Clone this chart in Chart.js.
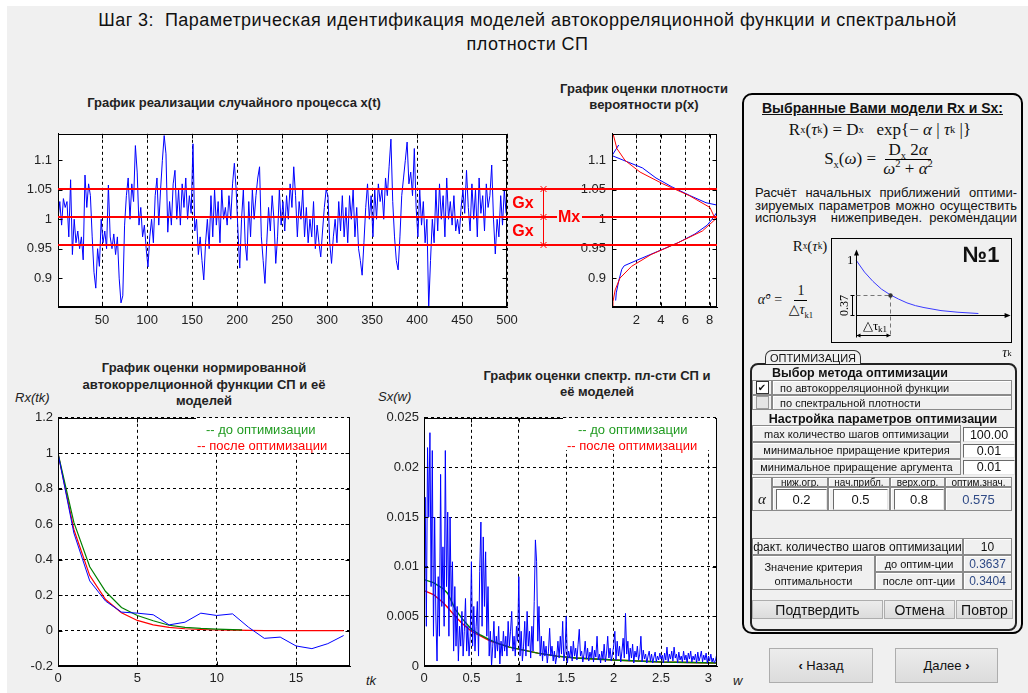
<!DOCTYPE html>
<html>
<head>
<meta charset="utf-8">
<script src="https://cdn.jsdelivr.net/npm/chart.js@4.4.1/dist/chart.umd.min.js"></script>
<style>
html, body { margin: 0; padding: 0; background: #fff; overflow: hidden; }
body { width: 1028px; height: 693px; position: relative; font-family: "Liberation Sans", Arial, sans-serif; color: #111; }
#page { position: absolute; left: 7px; top: 6px; width: 1021px; height: 687px; background: #f0f0f0; }
canvas { position: absolute; }
.abs { position: absolute; box-sizing: border-box; display: flex; align-items: center; justify-content: center; white-space: nowrap; }
.title { font-size: 18px; letter-spacing: 0.45px; line-height: 24px; display: block; text-align: center; color: #111; }
.ctitle { font-weight: bold; font-size: 13px; line-height: 16px; display: block; text-align: center; color: #222; }
.ital { font-style: italic; font-size: 13px; color: #222; justify-content: flex-start; }
.frame { border: 2px solid #000; border-radius: 10px; }
.frame2 { border: 2px solid #222; border-radius: 8px; }
.hdr { font-weight: bold; font-size: 14px; }
.math { font-family: "Liberation Serif", "DejaVu Serif", serif; font-size: 17px; }
.math sub { font-size: 62%; vertical-align: -4px; line-height: 0; }
.math sup { font-size: 62%; vertical-align: 7px; line-height: 0; }
.frac { display: inline-flex; flex-direction: column; align-items: center; }
.frac > span { padding: 0 3px; line-height: 18px; }
.frac > span:first-child { border-bottom: 1px solid #000; }
.just { display: block; font-size: 13px; line-height: 14px; text-align: justify; text-align-last: justify; }
.tab { border: 1px solid #333; border-bottom: none; border-radius: 7px 7px 0 0; font-size: 11px; background: #f0f0f0; }
.b12 { font-weight: bold; font-size: 12.5px; }
.cell { border: 1px solid #8a8a8a; box-shadow: inset 1px 1px 0 #fff; font-size: 11px; background: #f0f0f0; }
.left { justify-content: flex-start; padding-left: 7px; }
.edit { background: #fff; border-top: 1px solid #6a6a6a; border-left: 1px solid #6a6a6a; border-right: 1px solid #e6e6e6; border-bottom: 1px solid #e6e6e6; font-size: 12.5px; }
.small { font-size: 10px; }
.big { font-size: 13px; }
.big2 { font-size: 12px; }
.val { color: #2f4a86; }
.two { display: block; text-align: center; padding-top: 4px; line-height: 14px; }
.chk { display: inline-block; width: 11px; height: 11px; border: 1px solid #333; background: #fff; font-size: 10px; line-height: 11px; text-align: center; font-family: "DejaVu Sans", sans-serif; }
.chk.off { background: #e4e4e4; border-color: #9a9a9a; }
.btn { background: linear-gradient(#ececec, #dcdcdc); border: 1px solid #adadad; font-size: 14px; color: #111; }
.nav { font-size: 13px; }
.white { background: #fff; }
.leg { font-size: 13px; justify-content: flex-start; }
</style>
</head>
<body>
<div id="page"></div>
<script>
// ---------- data ----------
// realisation x(t), one sample every 2 steps starting at t = 1
const processStart = 1;
const processStep = 2;
const processX = [
  1.0, 1.03, 0.99, 1.035, 1.02, 1.03, 0.97, 1.067, 0.94, 1.0,
  0.96, 0.98, 0.95, 0.97, 0.931, 1.075, 1.02, 1.06, 1.04, 0.97,
  0.91, 0.883, 0.95, 0.92, 1.0, 0.96, 0.98, 0.95, 1.058, 0.97,
  0.95, 0.975, 0.94, 0.97, 0.9, 0.858, 0.87, 0.99, 1.04, 1.07,
  1.0, 1.06, 1.03, 1.125, 1.08, 0.99, 1.02, 0.97, 0.99, 0.95,
  0.919, 0.97, 1.0, 0.96, 1.04, 1.07, 0.99, 1.05, 1.1, 1.142,
  1.111, 0.978, 1.03, 0.99, 1.06, 1.083, 1.0, 1.05, 0.99, 1.06,
  1.02, 1.07, 1.0, 1.04, 1.01, 1.128, 0.98, 1.0, 0.94, 0.97,
  0.93, 0.897, 0.96, 1.0, 0.95, 1.04, 0.97, 1.05, 0.99, 1.03,
  0.96, 1.05, 1.0, 1.02, 0.99, 1.04, 1.0, 1.06, 1.095, 1.05,
  0.98, 0.917, 1.0, 1.05, 0.96, 0.93, 1.03, 0.97, 1.05, 1.0,
  1.04, 1.07, 1.089, 0.97, 0.93, 0.891, 0.96, 1.02, 0.98, 1.04,
  1.0, 0.925, 0.97, 1.05, 0.99, 1.03, 0.98, 1.04, 1.0, 1.06,
  1.02, 1.089, 1.04, 0.97, 1.03, 1.0, 1.05, 0.97, 1.02, 0.96,
  1.0, 0.97, 1.03, 0.95, 0.99, 0.96, 0.936, 0.98, 1.02, 1.05,
  1.04, 0.96, 0.925, 0.97, 1.0, 0.96, 1.03, 0.98, 1.04, 0.97,
  1.02, 0.96, 1.04, 1.0, 1.05, 0.97, 1.02, 0.95, 0.93, 0.905,
  0.96, 1.02, 1.06, 1.0, 1.04, 0.97, 1.05, 1.0, 1.06, 1.03,
  1.05, 1.0, 1.07, 1.04, 1.09, 1.136, 1.03, 0.97, 0.93, 0.914,
  0.97, 1.04, 1.07, 1.1, 1.131, 1.06, 1.08, 1.04, 1.12, 1.02,
  0.97, 1.05, 0.99, 1.03, 0.96, 1.0, 0.85, 0.93, 1.0, 0.96,
  1.05, 0.98, 1.06, 1.0, 1.04, 0.97, 1.07, 1.0, 1.03, 0.99,
  1.04, 0.98, 1.0, 0.975, 1.02, 1.05, 1.01, 1.083, 1.02, 0.98,
  1.06, 1.0, 1.05, 0.97, 1.07, 1.01, 1.04, 0.98, 1.06, 1.02,
  1.04, 1.092, 1.0, 0.941, 1.0, 0.97, 1.04, 0.99, 1.05, 1.01
];
const processTicks = [50, 100, 150, 200, 250, 300, 350, 400, 450, 500];
const processTickLabels = ['50', '100', '150', '200', '250', '300', '350', '400', '450', '500'];
const levelTicks = [0.9, 0.95, 1, 1.05, 1.1];
const levelTickLabels = ['0.9', '0.95', '1', '1.05', '1.1'];
// Mx - Gx, Mx, Mx + Gx
const levelValues = [0.957, 1.004, 1.0505];

// density estimate p(x): horizontal = density, vertical = level
const densEmpLevel = [0.862, 0.875, 0.895, 0.915, 0.921, 0.93, 0.945, 0.96, 0.975, 0.99, 1.0, 1.012, 1.024, 1.028, 1.04, 1.055, 1.07, 1.087, 1.108, 1.126];
const densEmpValue = [0.3, 0.35, 0.55, 0.8, 1.0, 2.0, 3.7, 5.4, 6.8, 7.8, 8.2, 8.6, 8.6, 7.7, 6.4, 4.9, 3.6, 2.5, 0.0, 0.55];
const densFitLevel = [0.85, 0.86, 0.88, 0.9, 0.92, 0.94, 0.96, 0.98, 1.0, 1.02, 1.04, 1.06, 1.08, 1.1, 1.12, 1.145];
const densFitValue = [0.04, 0.08, 0.26, 0.65, 1.6, 3.2, 5.4, 7.4, 8.47, 8.02, 6.34, 4.17, 2.3, 1.06, 0.4, 0.09];
const densTicks = [2, 4, 6, 8];
const densTickLabels = ['2', '4', '6', '8'];

// normalised autocorrelation
const rxLag = [0, 1, 2, 3, 4, 5, 6, 7, 8, 9, 10, 11, 12, 13, 14, 15, 16, 17, 18];
const rxEstimate = [1, 0.55, 0.28, 0.166, 0.104, 0.098, 0.089, 0.032, 0.047, 0.098, 0.085, 0.094, 0.019, -0.044, -0.037, -0.087, -0.102, -0.074, -0.028];
const rxBeforeLag = [0, 1, 2, 3, 4, 5, 6, 7, 8, 9, 10, 11, 11.6];
const rxBefore = [1, 0.61, 0.36, 0.22, 0.13, 0.085, 0.055, 0.03, 0.018, 0.012, 0.008, 0.005, 0.004];
const rxAfter = [1, 0.57, 0.31, 0.175, 0.1, 0.057, 0.032, 0.018, 0.01, 0.006, 0.003, 0.002, 0.001, 0, 0, 0, 0, 0, 0];
const rxTicksX = [0, 5, 10, 15];
const rxTickLabelsX = ['0', '5', '10', '15'];
const rxTicksY = [-0.2, 0, 0.2, 0.4, 0.6, 0.8, 1, 1.2];
const rxTickLabelsY = ['-0.2', '0', '0.2', '0.4', '0.6', '0.8', '1', '1.2'];

// spectral density estimate, one value every 0.0125 rad starting at 0
const specStart = 0;
const specStep = 0.0125;
const specEstimate = [
  0.0025, 0.017, 0.004, 0.022, 0.015, 0.0235, 0.008, 0.0217, 0.003, 0.015,
  0.005, 0.0005, 0.009, 0.003, 0.0193, 0.006, 0.012, 0.004, 0.0217, 0.008,
  0.0155, 0.003, 0.015, 0.006, 0.0105, 0.0015, 0.008, 0.002, 0.006, 0.0005,
  0.004, 0.002, 0.0055, 0.001, 0.0035, 0.0068, 0.0015, 0.004, 0.001, 0.003,
  0.0105, 0.002, 0.006, 0.0015, 0.004, 0.0065, 0.001, 0.0095, 0.0145, 0.004,
  0.013, 0.006, 0.0115, 0.003, 0.008, 0.001, 0.0035, 0.0, 0.002, 0.0045,
  0.0008, 0.003, 0.0015, 0.004, 0.0002, 0.0025, 0.001, 0.0035, 0.0015, 0.003,
  0.001, 0.0045, 0.002, 0.0035, 0.0055, 0.0015, 0.003, 0.001, 0.004, 0.0025,
  0.009, 0.001, 0.0035, 0.0005, 0.002, 0.0045, 0.001, 0.0055, 0.002, 0.0035,
  0.0008, 0.004, 0.0015, 0.0065, 0.0127, 0.0105, 0.0025, 0.006, 0.001, 0.003,
  0.0005, 0.0025, 0.001, 0.002, 0.0003, 0.0015, 0.0038, 0.001, 0.002, 0.0005,
  0.0015, 0.0002, 0.001, 0.0025, 0.0008, 0.003, 0.0012, 0.0045, 0.0005, 0.0015,
  0.005, 0.0003, 0.0015, 0.0008, 0.002, 0.0005, 0.0025, 0.001, 0.0018, 0.0006,
  0.0022, 0.0037, 0.001, 0.0015, 0.0004, 0.0012, 0.0025, 0.0007, 0.0018, 0.0005,
  0.0014, 0.0008, 0.002, 0.0004, 0.0016, 0.0009, 0.003, 0.0006, 0.0012, 0.0003,
  0.0015, 0.0007, 0.0022, 0.0004, 0.0013, 0.003, 0.0008, 0.0018, 0.0005, 0.0012,
  0.002, 0.0035, 0.0006, 0.0025, 0.001, 0.002, 0.0004, 0.0015, 0.0028, 0.0008,
  0.0053, 0.0012, 0.0025, 0.0005, 0.0018, 0.0008, 0.0022, 0.0003, 0.0015, 0.0009,
  0.002, 0.0006, 0.0012, 0.003, 0.0004, 0.0016, 0.0007, 0.0012, 0.0003, 0.001,
  0.0015, 0.0005, 0.0012, 0.0003, 0.0009, 0.0014, 0.0004, 0.001, 0.0006, 0.0013,
  0.0007, 0.0011, 0.0003, 0.0013, 0.0006, 0.0019, 0.0004, 0.0012, 0.0007, 0.0015,
  0.0005, 0.0019, 0.0008, 0.0012, 0.0003, 0.0014, 0.0006, 0.001, 0.0004, 0.0015,
  0.0006, 0.0011, 0.0003, 0.0013, 0.0007, 0.0015, 0.0004, 0.001, 0.0006, 0.0012,
  0.0003, 0.0014, 0.0005, 0.0009, 0.0015, 0.0004, 0.0011, 0.0006, 0.0013, 0.0003,
  0.001, 0.0005, 0.0012, 0.0004, 0.0008, 0.0003, 0.0006, 0.0012
];
const specModelW = [0, 0.1, 0.2, 0.25, 0.33, 0.4, 0.5, 0.6, 0.7, 0.8, 0.9, 1.0, 1.2, 1.4, 1.6, 1.8, 2.0, 2.5, 3.09];
const specBefore = [0.0087, 0.0084, 0.0078, 0.0073, 0.0057, 0.0048, 0.0037, 0.0031, 0.0026, 0.0022, 0.0019, 0.0017, 0.0013, 0.001, 0.0008, 0.0007, 0.0006, 0.0004, 0.0003];
const specAfter = [0.0076, 0.0072, 0.0064, 0.0059, 0.005, 0.0043, 0.0035, 0.003, 0.0025, 0.0022, 0.0019, 0.0017, 0.0013, 0.001, 0.0008, 0.0007, 0.0006, 0.0004, 0.0003];
const specTicksX = [0, 0.5, 1, 1.5, 2, 2.5, 3];
const specTickLabelsX = ['0', '0.5', '1', '1.5', '2', '2.5', '3'];
const specTicksY = [0, 0.005, 0.01, 0.015, 0.02, 0.025];
const specTickLabelsY = ['0', '0.005', '0.01', '0.015', '0.02', '0.025'];

// sketch of the exponential model (tau in units of delta tau_k1)
const sketchTau = [0, 0.25, 0.5, 0.75, 1, 1.25, 1.5, 1.75, 2, 2.5, 3, 3.6];
const sketchR = [1, 0.78, 0.61, 0.47, 0.37, 0.29, 0.22, 0.17, 0.135, 0.08, 0.05, 0.027];
const sketchMark = [1, 0.37];

// ---------- helpers ----------
Chart.defaults.font.family = '"Liberation Sans", Arial, sans-serif';
Chart.defaults.font.size = 13;
Chart.defaults.color = '#222';
Chart.defaults.animation = false;
Chart.defaults.responsive = false;
Chart.defaults.plugins.legend.display = false;
Chart.defaults.plugins.tooltip.enabled = false;
Chart.defaults.elements.point.radius = 0;
Chart.defaults.elements.line.tension = 0;

function put(html, l, t, w, h, cls, css) {
  const d = document.createElement('div');
  d.className = 'abs ' + (cls || '');
  d.style.cssText = 'left:' + l + 'px;top:' + t + 'px;width:' + w + 'px;height:' + h + 'px;' + (css || '');
  d.innerHTML = html;
  document.body.appendChild(d);
  return d;
}

function canvasAt(l, t, w, h) {
  const c = document.createElement('canvas');
  c.width = w; c.height = h;
  c.style.left = l + 'px'; c.style.top = t + 'px';
  document.body.appendChild(c);
  return c;
}

function pts(xs, ys) {
  return xs.map((x, i) => ({ x: x, y: ys[i] }));
}

function axis(min, max, vals, labels, showGrid, size, pad) {
  return {
    type: 'linear', min: min, max: max,
    afterBuildTicks: s => { s.ticks = vals.map(v => ({ value: v })); },
    ticks: { autoSkip: false, maxRotation: 0, padding: pad, callback: (v, i) => labels[i] },
    grid: { display: showGrid, color: '#000', lineWidth: 1, drawTicks: false },
    border: { display: true, color: '#000', dash: [3, 3] },
    afterFit: s => { if (s.isHorizontal()) s.height = size; else s.width = size; }
  };
}

function line(data, color, width) {
  return { data: data, borderColor: color, borderWidth: width || 1, pointRadius: 0, fill: false };
}

// white plot area, full box and small inner tick marks
const boxPlugin = {
  id: 'box',
  beforeDraw(c) {
    const a = c.chartArea, ctx = c.ctx;
    ctx.save();
    ctx.fillStyle = '#fff';
    ctx.fillRect(a.left, a.top, a.right - a.left, a.bottom - a.top);
    ctx.restore();
  },
  afterDraw(c) {
    const a = c.chartArea, ctx = c.ctx;
    const L = Math.round(a.left) + 0.5, R = Math.round(a.right) - 0.5;
    const T = Math.round(a.top) + 0.5, B = Math.round(a.bottom) - 0.5;
    ctx.save();
    ctx.strokeStyle = '#000';
    ctx.lineWidth = 1;
    ctx.strokeRect(L, T, R - L, B - T);
    ctx.beginPath();
    c.scales.x.ticks.forEach(t => {
      const p = Math.round(c.scales.x.getPixelForValue(t.value)) + 0.5;
      ctx.moveTo(p, B); ctx.lineTo(p, B - 4);
      ctx.moveTo(p, T); ctx.lineTo(p, T + 4);
    });
    c.scales.y.ticks.forEach(t => {
      const p = Math.round(c.scales.y.getPixelForValue(t.value)) + 0.5;
      ctx.moveTo(L, p); ctx.lineTo(L + 4, p);
      ctx.moveTo(R, p); ctx.lineTo(R - 4, p);
    });
    ctx.stroke();
    ctx.restore();
  }
};

// ---------- static texts ----------
put('Шаг 3:&nbsp; Параметрическая идентификация моделей автокорреляционной функции и спектральной<br>плотности СП', 0, 8, 1055, 48, 'title');
put('График реализации случайного процесса x(t)', 34, 95, 400, 16, 'ctitle');
put('График оценки плотности<br>вероятности p(x)', 544, 81, 200, 32, 'ctitle');
put('График оценки нормированной<br>автокоррелционной функции СП и её<br>моделей', 54, 360, 300, 50, 'ctitle', 'line-height:16.5px');
put('График оценки спектр. пл-сти СП и<br>её моделей', 447, 368, 300, 32, 'ctitle', 'line-height:15.5px');
put('Rx(tk)', 15, 389, 50, 16, 'ital');
put('Sx(w)', 378, 388, 50, 16, 'ital');
put('tk', 366, 672, 20, 16, 'ital');
put('w', 733, 672, 20, 16, 'ital');

// ---------- chart 1: realisation ----------
const procData = processX.map((v, i) => ({ x: processStart + i * processStep, y: v }));
const levelPlugin1 = {
  id: 'levels1',
  afterDraw(c) {
    const ctx = c.ctx, y = c.scales.y, a = c.chartArea;
    const py = levelValues.map(v => Math.round(y.getPixelForValue(v)));
    ctx.save();
    ctx.strokeStyle = '#ff0000';
    ctx.lineWidth = 2;
    py.forEach(p => { ctx.beginPath(); ctx.moveTo(a.left, p); ctx.lineTo(c.width, p); ctx.stroke(); });
    ctx.lineWidth = 1;
    const xb = Math.round(a.right) + 36.5;
    ctx.beginPath();
    ctx.moveTo(xb, py[0]); ctx.lineTo(xb, py[2]);
    py.forEach(p => { ctx.moveTo(xb - 3, p - 3); ctx.lineTo(xb + 3, p + 3); ctx.moveTo(xb - 3, p + 3); ctx.lineTo(xb + 3, p - 3); });
    ctx.stroke();
    ctx.fillStyle = '#ff0000';
    ctx.font = 'bold 16px "Liberation Sans", Arial, sans-serif';
    ctx.textAlign = 'center';
    ctx.textBaseline = 'middle';
    ctx.fillText('Gx', a.right + 16, (py[1] + py[2]) / 2 + 1);
    ctx.fillText('Gx', a.right + 16, (py[0] + py[1]) / 2 + 1);
    ctx.restore();
  }
};
new Chart(canvasAt(0, 120, 556, 210), {
  type: 'line',
  data: { datasets: [line(procData, '#0000ff', 1)] },
  options: {
    layout: { padding: { left: 0, right: 49, top: 11, bottom: 0 } },
    scales: {
      x: axis(1, 500, processTicks, processTickLabels, true, 23, 6),
      y: axis(0.851, 1.145, levelTicks, levelTickLabels, false, 58, 6)
    }
  },
  plugins: [boxPlugin, levelPlugin1]
});

// ---------- chart 2: probability density ----------
const levelPlugin2 = {
  id: 'levels2',
  afterDraw(c) {
    const ctx = c.ctx, y = c.scales.y, a = c.chartArea;
    const py = levelValues.map(v => Math.round(y.getPixelForValue(v)));
    ctx.save();
    ctx.strokeStyle = '#ff0000';
    ctx.lineWidth = 2;
    py.forEach(p => { ctx.beginPath(); ctx.moveTo(0, p); ctx.lineTo(a.right, p); ctx.stroke(); });
    ctx.fillStyle = '#f0f0f0';
    ctx.fillRect(1, py[1] - 8, 25, 16);
    ctx.fillStyle = '#ff0000';
    ctx.font = 'bold 16px "Liberation Sans", Arial, sans-serif';
    ctx.textAlign = 'left';
    ctx.textBaseline = 'middle';
    ctx.fillText('Mx', 2, py[1] + 1);
    ctx.restore();
  }
};
new Chart(canvasAt(556, 120, 174, 210), {
  type: 'line',
  data: {
    datasets: [
      line(pts(densFitValue, densFitLevel), '#ff0000', 1),
      line(pts(densEmpValue, densEmpLevel), '#0000ff', 1)
    ]
  },
  options: {
    layout: { padding: { left: 0, right: 13, top: 11, bottom: 0 } },
    scales: {
      x: axis(0, 8.6, densTicks, densTickLabels, true, 23, 6),
      y: axis(0.851, 1.145, levelTicks, levelTickLabels, false, 56, 6)
    }
  },
  plugins: [boxPlugin, levelPlugin2]
});

// ---------- chart 3: autocorrelation ----------
new Chart(canvasAt(0, 405, 365, 288), {
  type: 'line',
  data: {
    datasets: [
      line(pts(rxLag, rxEstimate), '#0000ff', 1),
      line(pts(rxBeforeLag, rxBefore), '#008000', 1.2),
      line(pts(rxLag, rxAfter), '#ff0000', 1.2)
    ]
  },
  options: {
    layout: { padding: { left: 0, right: 15, top: 12, bottom: 0 } },
    scales: {
      x: axis(0, 18.4, rxTicksX, rxTickLabelsX, true, 27, 5),
      y: axis(-0.2, 1.2, rxTicksY, rxTickLabelsY, true, 58, 5)
    }
  },
  plugins: [boxPlugin]
});
put('', 196, 418, 153, 33, 'white');
put('-- до оптимизации', 206, 421, 140, 16, 'leg', 'color:#1f9a1f');
put('-- после оптимизации', 197, 437, 150, 16, 'leg', 'color:#ff0000');

// ---------- chart 4: spectral density ----------
const specData = specEstimate.map((v, i) => ({ x: specStart + i * specStep, y: v }));
new Chart(canvasAt(370, 405, 360, 288), {
  type: 'line',
  data: {
    datasets: [
      line(specData, '#0000ff', 1),
      line(pts(specModelW, specBefore), '#008000', 1.4),
      line(pts(specModelW, specAfter), '#ff0000', 1.4)
    ]
  },
  options: {
    layout: { padding: { left: 0, right: 13, top: 12, bottom: 0 } },
    scales: {
      x: axis(0, 3.09, specTicksX, specTickLabelsX, true, 27, 5),
      y: axis(0, 0.025, specTicksY, specTickLabelsY, true, 54, 5)
    }
  },
  plugins: [boxPlugin]
});
put('', 563, 418, 152, 32, 'white');
put('-- до оптимизации', 578, 421, 130, 16, 'leg', 'color:#1f9a1f');
put('-- после оптимизации', 567, 437, 145, 16, 'leg', 'color:#ff0000');

// ---------- right panel ----------
put('', 742, 93, 281, 541, 'frame');
put('<u>Выбранные Вами модели Rx и Sx:</u>', 742, 99, 281, 17, 'hdr');
put('R<sub>x</sub>(<i>τ</i><sub>k</sub>)&nbsp;=&nbsp;D<sub>x</sub>&nbsp;&nbsp; exp{−&nbsp;<i>α</i>&nbsp;|&nbsp;<i>τ</i><sub>k</sub>&nbsp;|}', 760, 120, 240, 20, 'math');
put('<span>S<sub>x</sub>(<i>ω</i>)&nbsp;=&nbsp;</span><span class="frac"><span>D<sub>x</sub>&nbsp;2<i>α</i></span><span><i>ω</i><sup>2</sup>&nbsp;+&nbsp;<i>α</i><sup>2</sup></span></span>', 790, 140, 180, 38, 'math');
put('Расчёт начальных приближений оптими-', 755, 186, 262, 14, 'just');
put('зируемых параметров можно осуществить', 755, 199, 262, 14, 'just');
put('используя&nbsp; нижеприведен. рекомендации', 755, 211, 262, 14, 'just');

put('', 831, 238, 181, 105, '', 'border:1px solid #000;');
const sketchPlugin = {
  id: 'sketch',
  afterDraw(c) {
    const ctx = c.ctx, x = c.scales.x, y = c.scales.y;
    const x0 = Math.round(x.getPixelForValue(0)) + 0.5, y0 = Math.round(y.getPixelForValue(0)) + 0.5;
    const x1 = Math.round(x.getPixelForValue(sketchMark[0])) + 0.5, y1 = Math.round(y.getPixelForValue(sketchMark[1])) + 0.5;
    const yTop = y.getPixelForValue(1.1), xEnd = x.getPixelForValue(4.4);
    const yDim = y0 + 20;
    ctx.save();
    ctx.strokeStyle = '#000'; ctx.fillStyle = '#000'; ctx.lineWidth = 1;
    ctx.beginPath();
    ctx.moveTo(x0, yDim + 2); ctx.lineTo(x0, yTop);
    ctx.moveTo(x0, y0); ctx.lineTo(xEnd, y0);
    ctx.moveTo(x0 - 6, y1); ctx.lineTo(x0 - 2, y1);
    ctx.moveTo(x0 - 6, y0); ctx.lineTo(x0 - 2, y0);
    ctx.moveTo(x0 - 4, y1); ctx.lineTo(x0 - 4, y0);
    ctx.moveTo(x0, yDim); ctx.lineTo(x1, yDim);
    ctx.stroke();
    ctx.beginPath();
    ctx.moveTo(x0, yTop - 5); ctx.lineTo(x0 - 2.5, yTop + 1); ctx.lineTo(x0 + 2.5, yTop + 1); ctx.closePath();
    ctx.moveTo(xEnd + 5, y0); ctx.lineTo(xEnd - 1, y0 - 2.5); ctx.lineTo(xEnd - 1, y0 + 2.5); ctx.closePath();
    ctx.moveTo(x0 + 4, yDim - 2); ctx.lineTo(x0, yDim); ctx.lineTo(x0 + 4, yDim + 2); ctx.closePath();
    ctx.moveTo(x1 - 4, yDim - 2); ctx.lineTo(x1, yDim); ctx.lineTo(x1 - 4, yDim + 2); ctx.closePath();
    ctx.fill();
    ctx.strokeStyle = '#777';
    ctx.setLineDash([4, 3]);
    ctx.beginPath();
    ctx.moveTo(x0, y1); ctx.lineTo(x1, y1);
    ctx.moveTo(x1, y1); ctx.lineTo(x1, yDim + 2);
    ctx.stroke();
    ctx.setLineDash([]);
    ctx.fillStyle = '#333';
    ctx.beginPath(); ctx.arc(x1, y1, 2.2, 0, Math.PI * 2); ctx.fill();
    ctx.fillStyle = '#000';
    ctx.font = '13px "Liberation Serif", serif';
    ctx.textAlign = 'right'; ctx.textBaseline = 'middle';
    ctx.fillText('1', x0 - 3, y.getPixelForValue(1) + 1);
    ctx.textAlign = 'center';
    ctx.fillText('△τ', (x0 + x1) / 2 - 3, yDim - 9);
    ctx.font = '9px "Liberation Serif", serif';
    ctx.fillText('k1', (x0 + x1) / 2 + 9, yDim - 6);
    ctx.translate(x0 - 12, (y0 + y1) / 2);
    ctx.rotate(-Math.PI / 2);
    ctx.font = '12px "Liberation Serif", serif';
    ctx.fillText('0.37', 0, 0);
    ctx.restore();
  }
};
new Chart(canvasAt(832, 239, 179, 103), {
  type: 'line',
  data: { datasets: [line(pts(sketchTau, sketchR), '#3a3aff', 1)] },
  options: {
    layout: { padding: 0 },
    scales: {
      x: { type: 'linear', display: false, min: -0.706, max: 4.559 },
      y: { type: 'linear', display: false, min: -0.491, max: 1.382 }
    }
  },
  plugins: [sketchPlugin]
});
put('R<sub>x</sub>(<i>τ</i><sub>k</sub>)', 788, 236, 44, 20, 'math', 'font-size:15px');
put('№1', 956, 243, 50, 24, '', 'font-weight:bold;font-size:22px;');
put('<span><i>α̂</i>° =&nbsp;</span><span class="frac"><span>1</span><span>△<i>τ</i><sub>k1</sub></span></span>', 752, 282, 70, 36, 'math', 'font-size:14px');
put('<i>τ</i><sub>k</sub>', 996, 345, 22, 16, 'math', 'font-size:14px');

put('', 750, 363, 267, 268, 'frame2');
put('ОПТИМИЗАЦИЯ', 765, 350, 96, 14, 'tab');
put('Выбор метода оптимизации', 752, 366, 216, 14, 'b12');
put('<span class="chk">✔</span>', 752, 380, 20, 15, 'cell');
put('по автокорреляционной функции', 772, 380, 240, 15, 'cell left');
put('<span class="chk off"></span>', 752, 395, 20, 15, 'cell');
put('по спектральной плотности', 772, 395, 240, 15, 'cell left');
put('Настройка параметров оптимизации', 752, 411, 262, 15, 'b12');

put('max количество шагов оптимизации', 752, 425, 209, 17, 'cell');
put('100.00', 963, 427, 52, 15, 'edit');
put('минимальное приращение критерия', 752, 442, 209, 16.5, 'cell');
put('0.01', 963, 443.5, 52, 14.5, 'edit');
put('минимальное приращение аргумента', 752, 458.5, 209, 16.5, 'cell');
put('0.01', 963, 460, 52, 14.5, 'edit');

put('<i>α</i>', 752, 477, 20, 34, 'cell math', 'padding-top:10px;font-size:15px');
put('ниж.огр.', 772, 477, 56, 10, 'cell small');
put('нач.прибл.', 828, 477, 62, 10, 'cell small');
put('верх.огр.', 890, 477, 55, 10, 'cell small');
put('оптим.знач.', 945, 477, 67, 10, 'cell small');
put('', 772, 487, 56, 24, 'cell');
put('', 828, 487, 62, 24, 'cell');
put('', 890, 487, 55, 24, 'cell');
put('0.2', 776, 489, 51, 21, 'edit big');
put('0.5', 833, 489, 55, 21, 'edit big');
put('0.8', 894, 489, 50, 21, 'edit big');
put('0.575', 945, 487, 67, 24, 'cell big val');

put('факт. количество шагов оптимизации', 752, 538, 211, 17, 'cell big2');
put('10', 963, 538, 49, 17, 'cell big2');
put('Значение критерия<br>оптимальности', 752, 555, 123, 35, 'cell two');
put('до оптим-ции', 875, 555, 88, 17, 'cell');
put('0.3637', 963, 555, 49, 17, 'cell big2 val');
put('после опт-ции', 875, 572, 88, 18, 'cell');
put('0.3404', 963, 572, 49, 18, 'cell big2 val');

put('Подтвердить', 752, 600, 131, 19, 'btn');
put('Отмена', 884, 600, 71, 19, 'btn');
put('Повтор', 956, 600, 57, 19, 'btn');

put('<b>‹</b>&nbsp;Назад', 769, 648, 104, 35, 'btn nav');
put('Далее&nbsp;<b>›</b>', 895, 648, 103, 35, 'btn nav');
</script>
</body>
</html>
